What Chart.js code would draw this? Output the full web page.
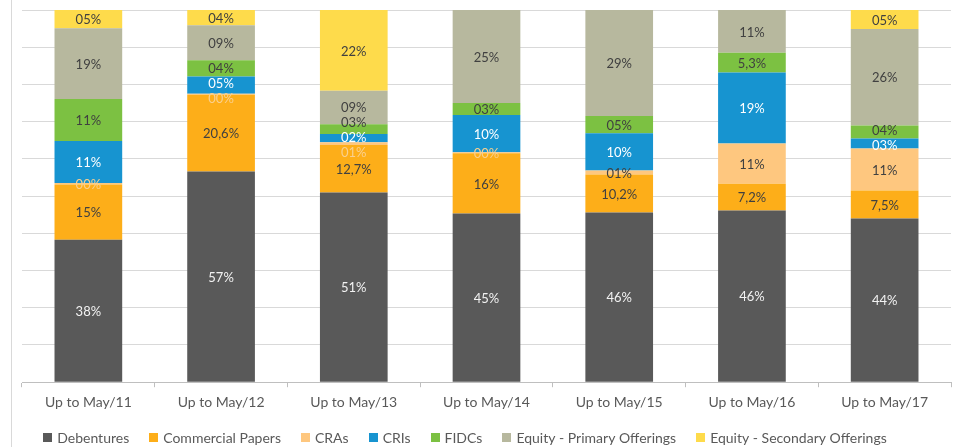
<!DOCTYPE html>
<html>
<head>
<meta charset="utf-8">
<title>Offerings by instrument</title>
<script src="https://cdn.jsdelivr.net/npm/chart.js@4.4.1/dist/chart.umd.min.js"></script>
<style>
  html, body { margin: 0; padding: 0; background: #fff; }
  #wrap { width: 955px; height: 447px; position: relative; }
</style>
</head>
<body>
<div id="wrap"><canvas id="offeringsChart" width="955" height="447"></canvas></div>
<script>
// Categories and shares (%)
const categories = ['Up to May/11', 'Up to May/12', 'Up to May/13', 'Up to May/14', 'Up to May/15', 'Up to May/16', 'Up to May/17'];

const debentures = [38.3, 56.6, 51.0, 45.3, 45.6, 46.1, 44.0];
const commercialPapers = [14.8, 20.6, 12.7, 16.2, 10.2, 7.2, 7.5];
const cras = [0.4, 0.3, 0.8, 0.3, 1.1, 10.8, 11.3];
const cris = [11.3, 4.6, 2.2, 10.0, 10.0, 19.1, 2.7];
const fidcs = [11.3, 4.4, 2.6, 3.2, 4.6, 5.3, 3.5];
const equityPrimary = [19.0, 9.4, 9.0, 25.0, 28.5, 11.5, 25.9];
const equitySecondary = [4.9, 4.1, 21.7, 0, 0, 0, 5.1];

// Data label texts as printed on the bars
const debenturesLabels = ['38%', '57%', '51%', '45%', '46%', '46%', '44%'];
const commercialPapersLabels = ['15%', '20,6%', '12,7%', '16%', '10,2%', '7,2%', '7,5%'];
const crasLabels = ['00%', '00%', '01%', '00%', '01%', '11%', '11%'];
const crisLabels = ['11%', '05%', '02%', '10%', '10%', '19%', '03%'];
const fidcsLabels = ['11%', '04%', '03%', '03%', '05%', '5,3%', '04%'];
const equityPrimaryLabels = ['19%', '09%', '09%', '25%', '29%', '11%', '26%'];
const equitySecondaryLabels = ['05%', '04%', '22%', '', '', '', '05%'];

const FONT = 'Lato, "Open Sans", sans-serif';
const DARK = '#404040';

document.addEventListener('DOMContentLoaded', function () {
  const canvas = document.getElementById('offeringsChart');

  function series(label, data, texts, color, textColor) {
    return {
      label: label,
      data: data,
      texts: texts,
      textColor: textColor,
      backgroundColor: color,
      borderWidth: 0,
      barPercentage: 0.51,
      categoryPercentage: 1
    };
  }

  // light text on tiny CRA slices, dark otherwise
  function crasTextColor(v) {
    return v < 1 ? '#FAD08F' : DARK;
  }

  const datasets = [
    series('Debentures', debentures, debenturesLabels, '#595959', () => '#F2F2F2'),
    series('Commercial Papers', commercialPapers, commercialPapersLabels, '#FDAE19', () => DARK),
    series('CRAs', cras, crasLabels, '#FEC77F', crasTextColor),
    series('CRIs', cris, crisLabels, '#1794D0', () => '#FFFFFF'),
    series('FIDCs', fidcs, fidcsLabels, '#7CC142', () => DARK),
    series('Equity - Primary Offerings', equityPrimary, equityPrimaryLabels, '#B7B89E', () => DARK),
    series('Equity - Secondary Offerings', equitySecondary, equitySecondaryLabels, '#FEDB4B', () => DARK)
  ];

  // Left border line of the chart frame
  const framePlugin = {
    id: 'frame',
    beforeDraw(chart) {
      const ctx = chart.ctx;
      ctx.save();
      ctx.strokeStyle = '#D9D9D9';
      ctx.lineWidth = 1;
      ctx.beginPath();
      ctx.moveTo(11.5, 0);
      ctx.lineTo(11.5, chart.height);
      ctx.stroke();
      ctx.restore();
    }
  };

  // Legend row drawn by hand so the item spacing can be wider than its height
  const legendPlugin = {
    id: 'bottomLegend',
    afterDraw(chart) {
      const ctx = chart.ctx;
      const box = 9;
      const textGap = 5;
      const itemGap = 20;
      const y = 437;
      ctx.save();
      ctx.font = '14px ' + FONT;
      ctx.textBaseline = 'middle';
      ctx.textAlign = 'left';
      const widths = chart.data.datasets.map(ds => box + textGap + ctx.measureText(ds.label).width);
      const total = widths.reduce((a, b) => a + b, 0) + itemGap * (widths.length - 1);
      let x = 465 - total / 2;
      chart.data.datasets.forEach((ds, d) => {
        ctx.fillStyle = ds.backgroundColor;
        ctx.fillRect(Math.round(x), y - 4, box, box);
        ctx.fillStyle = '#595959';
        ctx.fillText(ds.label, x + box + textGap, y + 1);
        x += widths[d] + itemGap;
      });
      ctx.restore();
    }
  };

  // Centered data labels, pushed apart when slices are thin
  const labelPlugin = {
    id: 'segmentLabels',
    afterDatasetsDraw(chart) {
      const ctx = chart.ctx;
      const gap = 15;
      ctx.save();
      ctx.font = '13px ' + FONT;
      ctx.textAlign = 'center';
      ctx.textBaseline = 'middle';

      categories.forEach((cat, i) => {
        const items = [];
        chart.data.datasets.forEach((ds, d) => {
          const text = ds.texts[i];
          if (!text) return;
          const bar = chart.getDatasetMeta(d).data[i];
          items.push({
            x: bar.x,
            want: (bar.y + bar.base) / 2,
            text: text,
            color: ds.textColor(ds.data[i])
          });
        });

        // merge overlapping groups, bottom to top
        const groups = [];
        const place = g => {
          const mean = g.items.reduce((s, it) => s + it.want, 0) / g.items.length;
          g.items.forEach((it, k) => {
            it.y = mean + ((g.items.length - 1) / 2 - k) * gap;
          });
        };
        items.forEach(it => {
          const g = { items: [it] };
          place(g);
          groups.push(g);
          while (groups.length > 1) {
            const upper = groups[groups.length - 1];
            const lower = groups[groups.length - 2];
            const lowTop = lower.items[lower.items.length - 1].y;
            const upBottom = upper.items[0].y;
            if (lowTop - upBottom >= gap) break;
            lower.items = lower.items.concat(upper.items);
            groups.pop();
            place(lower);
          }
        });

        items.forEach(it => {
          ctx.fillStyle = it.color;
          ctx.fillText(it.text, it.x, it.y + 1);
        });
      });
      ctx.restore();
    }
  };

  new Chart(canvas.getContext('2d'), {
    type: 'bar',
    data: {
      labels: categories,
      datasets: datasets
    },
    options: {
      responsive: false,
      animation: false,
      layout: {
        padding: { left: 22, right: 4, top: 10, bottom: 29 }
      },
      plugins: {
        legend: { display: false },
        tooltip: { enabled: false }
      },
      scales: {
        x: {
          stacked: true,
          grid: {
            offset: true,
            drawOnChartArea: false,
            drawTicks: true,
            tickLength: 5,
            color: '#BFBFBF'
          },
          border: { color: '#BFBFBF' },
          ticks: {
            color: '#595959',
            padding: 7,
            font: { family: FONT, size: 14 }
          }
        },
        y: {
          stacked: true,
          min: 0,
          max: 100,
          ticks: { display: false, stepSize: 10 },
          grid: { color: '#D9D9D9', drawTicks: false },
          border: { display: false }
        }
      }
    },
    plugins: [framePlugin, labelPlugin, legendPlugin]
  });
});
</script>
</body>
</html>
